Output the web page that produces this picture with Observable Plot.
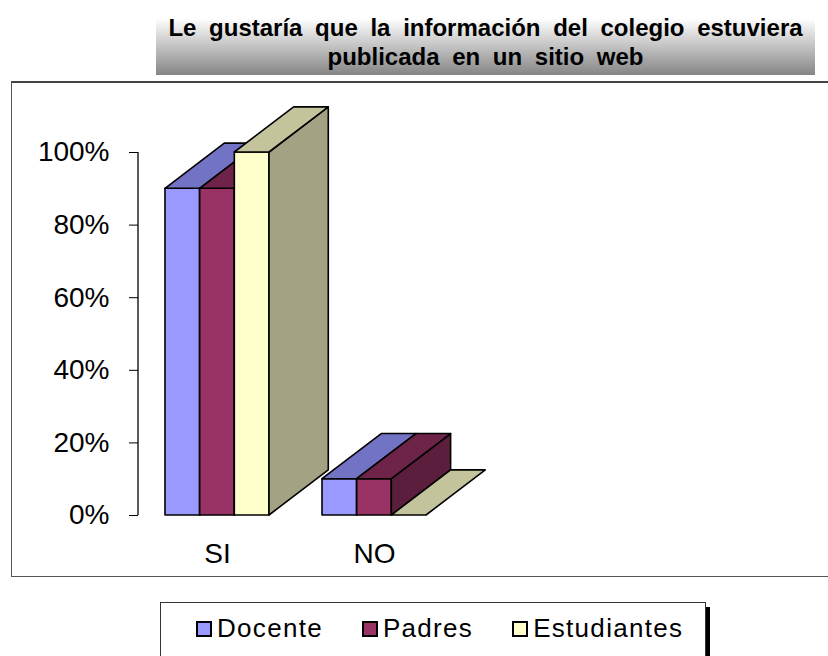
<!DOCTYPE html>
<html>
<head>
<meta charset="utf-8">
<script src="https://cdn.jsdelivr.net/npm/d3@7"></script>
<script src="https://cdn.jsdelivr.net/npm/@observablehq/plot@0.6"></script>
<style>
  body { margin: 0; background: #fff; font-family: "Liberation Sans", Arial, sans-serif; }
  #wrap { position: relative; width: 828px; height: 656px; overflow: hidden; background: #fff; }
  #title { position: absolute; left: 156px; top: 12px; width: 659px; height: 63px; box-sizing: border-box;
           padding-top: 1px; background: linear-gradient(#ffffff 10%, #858585 100%);
           font-family: "Liberation Sans", Arial, sans-serif;
           text-align: center; font-weight: bold; font-size: 24px; line-height: 29px; color: #000;
           letter-spacing: 0px; word-spacing: 6px; }
  #box { position: absolute; left: 11px; top: 81px; width: 840px; height: 496px; box-sizing: border-box;
         border: 1px solid #555; border-top: 2px solid #444; }
  #chart { position: absolute; left: 0; top: 0; }
  #legend { position: absolute; left: 160px; top: 602px; width: 546px; height: 80px; box-sizing: border-box;
            border: 1px solid #333; box-shadow: 4px 5px 0 0 #000; background: #fff; }
  #legend .items { position: absolute; left: 35px; top: 10px; display: flex; gap: 39px; align-items: baseline; }
  #legend .item { display: flex; align-items: baseline; font-size: 26px; letter-spacing: 1.3px; line-height: 30px;
                  font-family: "Liberation Sans", Arial, sans-serif; }
  #legend .sw { display: inline-block; width: 12px; height: 12px; border: 2px solid #000; margin-right: 5px; }
</style>
</head>
<body>
<div id="wrap">
  <div id="title"></div>
  <div id="box"></div>
  <div id="chart"></div>
  <div id="legend"><div class="items"></div></div>
</div>
<script>
// ---- data ----
const titleLines = ["Le gustaría que la información del colegio estuviera", "publicada en un sitio web"];
const categories = ["SI", "NO"];
const series = ["Docente", "Padres", "Estudiantes"];
const docente = [0.90, 0.10];
const padres = [0.90, 0.10];
const estudiantes = [1.00, 0.00];
const yTicks = [0, 0.2, 0.4, 0.6, 0.8, 1.0];

// ---- styles ----
const frontColors = ["#9999FF", "#993366", "#FFFFCC"];
const topColors = ["#7373C6", "#6E2449", "#C4C49C"];
const sideColors = ["#5B5B99", "#5C1E3D", "#A3A383"];

const seriesValues = [docente, padres, estudiantes];
const table = [];
categories.forEach((c, i) => series.forEach((s, j) => table.push({category: c, series: s, si: j, value: seriesValues[j][i]})));

document.getElementById("title").innerHTML = titleLines.join("<br>");

const items = document.querySelector("#legend .items");
series.forEach((s, j) => {
  const it = document.createElement("span");
  it.className = "item";
  const sw = document.createElement("span");
  sw.className = "sw";
  sw.style.background = frontColors[j];
  it.appendChild(sw);
  it.appendChild(document.createTextNode(s));
  items.appendChild(it);
});

// custom 3D bar mark drawn through the plot's scales
function bars3d(index, scales, values, dimensions) {
  const x = scales.x, y = scales.y;
  const bw = x.bandwidth();
  const sw = bw / series.length;
  const ddx = bw * 0.57, ddy = bw * 0.434;
  const y0 = y(0);
  const g = d3.create("svg:g")
    .attr("stroke", "#000").attr("stroke-width", 1.6).attr("stroke-linejoin", "round");
  const poly = (pts, fill) => g.append("polygon").attr("points", pts.map(p => p.join(",")).join(" ")).attr("fill", fill);
  for (const d of table) {
    const x1 = x(d.category) + d.si * sw, x2 = x1 + sw;
    const yv = y(d.value);
    if (d.value > 0) {
      poly([[x1, yv], [x2, yv], [x2, y0], [x1, y0]], frontColors[d.si]);
      poly([[x2, yv], [x2 + ddx, yv - ddy], [x2 + ddx, y0 - ddy], [x2, y0]], sideColors[d.si]);
    }
    poly([[x1, yv], [x2, yv], [x2 + ddx, yv - ddy], [x1 + ddx, yv - ddy]], topColors[d.si]);
  }
  // value axis line
  g.append("line")
    .attr("x1", dimensions.marginLeft).attr("x2", dimensions.marginLeft)
    .attr("y1", y(0)).attr("y2", y(1)).attr("stroke-width", 1.3);
  return g.node();
}

const W = 828, H = 656;
const chart = Plot.plot({
  width: W, height: H,
  marginLeft: 138, marginRight: W - 452, marginTop: 152, marginBottom: H - 515,
  style: {background: "transparent", color: "#000", fontFamily: "'Liberation Sans', Arial, sans-serif", overflow: "visible"},
  x: {type: "band", domain: categories, paddingInner: 0.34, paddingOuter: 0.17},
  y: {domain: [0, 1]},
  marks: [
    bars3d,
    Plot.axisY({ticks: yTicks, tickFormat: d => Math.round(d * 100) + "%", tickSize: 9, tickPadding: 20, fontSize: 28, label: null}),
    Plot.axisX({tickSize: 0, tickPadding: 28, fontSize: 28, label: null})
  ]
});
document.getElementById("chart").appendChild(chart);
</script>
</body>
</html>
